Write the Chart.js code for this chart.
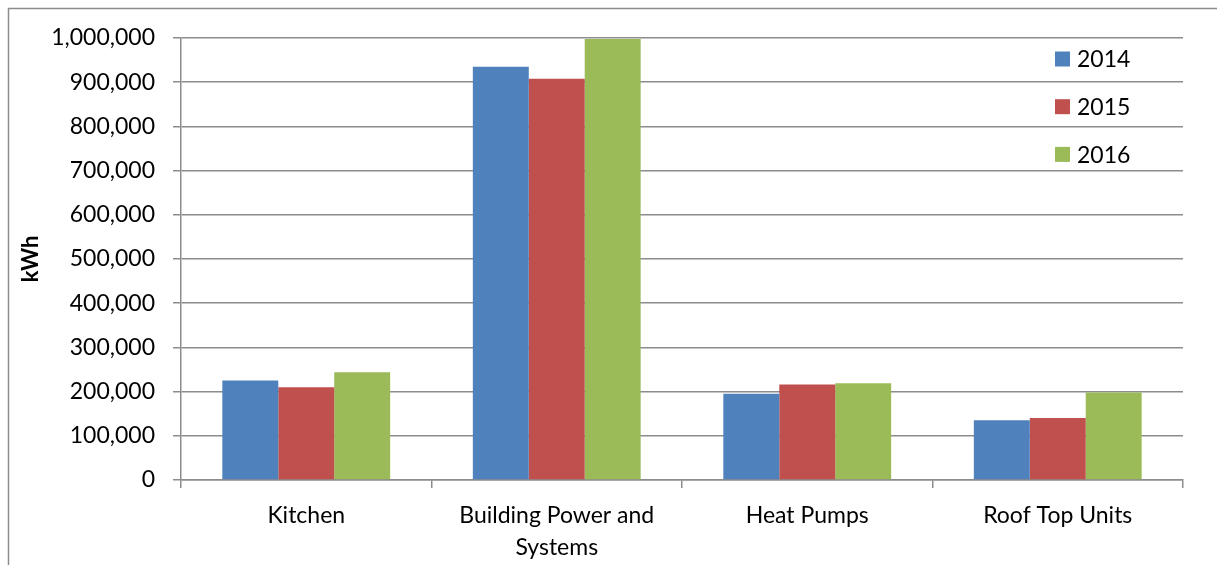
<!DOCTYPE html>
<html>
<head>
<meta charset="utf-8">
<script src="https://cdn.jsdelivr.net/npm/chart.js@4"></script>
<style>
  body { margin: 0; background: #fff; }
  canvas { display: block; }
</style>
</head>
<body>
<canvas id="chart" width="1217" height="565"></canvas>
<script>
// chart data
const categories = ['Kitchen', ['Building Power and', 'Systems'], 'Heat Pumps', 'Roof Top Units'];
const years = ['2014', '2015', '2016'];
const kwh2014 = [225000, 935000, 195000, 135000];
const kwh2015 = [210000, 908000, 216000, 140000];
const kwh2016 = [244000, 998000, 219000, 198000];
const yMax = 1000000;
const yStep = 100000;

const colors = ['#4F81BD', '#C0504D', '#9BBB59'];
const gridColor = '#8c8c8c';
const fontFamily = 'Lato, "Open Sans", sans-serif';

// white background and the outer frame (only left/top edges are visible)
const framePlugin = {
  id: 'frame',
  beforeDraw(chart) {
    const ctx = chart.ctx;
    ctx.save();
    ctx.fillStyle = '#fff';
    ctx.fillRect(0, 0, chart.width, chart.height);
    ctx.strokeStyle = '#8c8c8c';
    ctx.lineWidth = 1.5;
    ctx.beginPath();
    ctx.moveTo(8.5, chart.height);
    ctx.lineTo(8.5, 8.5);
    ctx.lineTo(chart.width, 8.5);
    ctx.stroke();
    ctx.restore();
  },
};

// legend drawn inside the plot area, top right
const insideLegend = {
  id: 'insideLegend',
  afterDraw(chart) {
    const ctx = chart.ctx;
    const area = chart.chartArea;
    ctx.save();
    ctx.font = '23px ' + fontFamily;
    ctx.textBaseline = 'middle';
    chart.data.datasets.forEach((ds, i) => {
      const y = area.top + 21 + i * 47.7;
      const x = area.right - 128;
      ctx.fillStyle = ds.backgroundColor;
      ctx.fillRect(x, y - 7.5, 15, 15);
      ctx.fillStyle = '#000';
      ctx.fillText(ds.label, x + 22, y + 1);
    });
    ctx.restore();
  },
};

new Chart(document.getElementById('chart'), {
  type: 'bar',
  data: {
    labels: categories,
    datasets: [
      {label: years[0], data: kwh2014, backgroundColor: colors[0]},
      {label: years[1], data: kwh2015, backgroundColor: colors[1]},
      {label: years[2], data: kwh2016, backgroundColor: colors[2]},
    ],
  },
  options: {
    responsive: false,
    animation: false,
    categoryPercentage: 0.67,
    barPercentage: 1,
    layout: {
      padding: {top: 38, right: 34, bottom: 0, left: 0},
    },
    plugins: {
      legend: {display: false},
      tooltip: {enabled: false},
    },
    scales: {
      x: {
        grid: {
          offset: true,
          drawOnChartArea: false,
          drawTicks: true,
          tickLength: 8,
          color: gridColor,
          lineWidth: 1.5,
        },
        border: {color: gridColor, width: 1.5},
        ticks: {
          color: '#000',
          padding: 11,
          maxRotation: 0,
          autoSkip: false,
          font: {family: fontFamily, size: 23, lineHeight: 1.4},
        },
        afterFit(scale) {
          scale.height = 85;
        },
      },
      y: {
        min: 0,
        max: yMax,
        ticks: {
          stepSize: yStep,
          color: '#000',
          padding: 18,
          font: {family: fontFamily, size: 23},
          callback: (v) => v.toLocaleString('en-US'),
        },
        grid: {
          color: gridColor,
          lineWidth: 1.5,
          tickLength: 8,
        },
        border: {color: gridColor, width: 1.5},
        title: {
          display: true,
          text: 'kWh',
          color: '#000',
          font: {family: fontFamily, size: 22, weight: 'bold'},
          padding: {top: 18, bottom: 0},
        },
        afterFit(scale) {
          scale.width = 181;
        },
      },
    },
  },
  plugins: [framePlugin, insideLegend],
});
</script>
</body>
</html>
